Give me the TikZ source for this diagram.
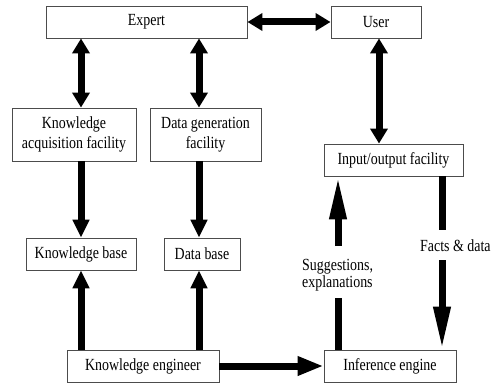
\documentclass[tikz,border=0pt]{standalone}
\usepackage{fontspec}
\setmainfont{Liberation Serif}[FakeStretch=0.82]
\usetikzlibrary{arrows.meta}
\begin{document}
\begin{tikzpicture}[x=1pt,y=-1pt,
  box/.style={draw=black!70, line width=0.9pt, inner sep=0pt, align=center,
    font=\fontsize{17}{20}\selectfont},
  arr/.style={line width=7pt, -{Triangle[width=16pt,length=18pt]}},
  dbl/.style={line width=7pt, {Triangle[width=17pt,length=15pt]}-{Triangle[width=17pt,length=15pt]}},
  longarr/.style={line width=7pt, -{Triangle[width=16pt,length=43pt]}},
  plain/.style={line width=7pt},
  lbl/.style={font=\fontsize{17}{17}\selectfont, inner sep=0pt}]
\useasboundingbox (0,0) rectangle (495,385);
\fill[white] (0,0) rectangle (495,385);
\node[box, minimum width=201pt, minimum height=32pt] (expert) at (146.5,22) {Expert};
\node[box, minimum width=90pt, minimum height=32pt] (user) at (376,22) {User};
\node[box, minimum width=124pt, minimum height=53pt] (ka) at (74,134.5) {Knowledge\\acquisition facility};
\node[box, minimum width=111pt, minimum height=53pt] (dg) at (205.5,134.5) {Data generation\\facility};
\node[box, minimum width=139pt, minimum height=32pt] (io) at (393.5,160) {Input/output facility};
\node[box, minimum width=110pt, minimum height=32pt] (kb) at (81,254) {Knowledge base};
\node[box, minimum width=76pt, minimum height=32pt] (db) at (202,254) {Data base};
\node[box, minimum width=152pt, minimum height=32pt] (ke) at (143,366) {Knowledge engineer};
\node[box, minimum width=132pt, minimum height=32pt] (ie) at (390,366) {Inference engine};
\node[lbl, anchor=west, align=left] (sug) at (302,275) {Suggestions,\\explanations};
\node[lbl, anchor=west] (facts) at (420,246) {Facts \& data};
\coordinate (c1) at (81,0);
\coordinate (c2) at (199,0);
\coordinate (c3) at (379,0);
\coordinate (c4) at (338,0);
\coordinate (c5) at (442,0);
\coordinate (s1) at (338,298);
\coordinate (s2) at (338,246);
\coordinate (f1) at (442,230);
\coordinate (f2) at (442,260);
\draw[dbl] (expert.east) -- (user.west);
\draw[dbl] (expert.south -| c1) -- (ka.north -| c1);
\draw[dbl] (expert.south -| c2) -- (dg.north -| c2);
\draw[dbl] (user.south -| c3) -- (io.north -| c3);
\draw[arr] (ka.south -| c1) -- (kb.north -| c1);
\draw[arr] (dg.south -| c2) -- (db.north -| c2);
\draw[arr] (ke.north -| c1) -- (kb.south -| c1);
\draw[arr] (ke.north -| c2) -- (db.south -| c2);
\draw[line width=7pt, -{Triangle[width=18pt,length=26pt]}] (ke.east) -- (ie.west);
\draw[plain] (ie.north -| c4) -- (s1);
\draw[longarr] (s2) -- (io.south -| c4);
\draw[plain] (io.south -| c5) -- (f1);
\draw[longarr] (f2) -- (ie.north -| c5);
\end{tikzpicture}
\end{document}
